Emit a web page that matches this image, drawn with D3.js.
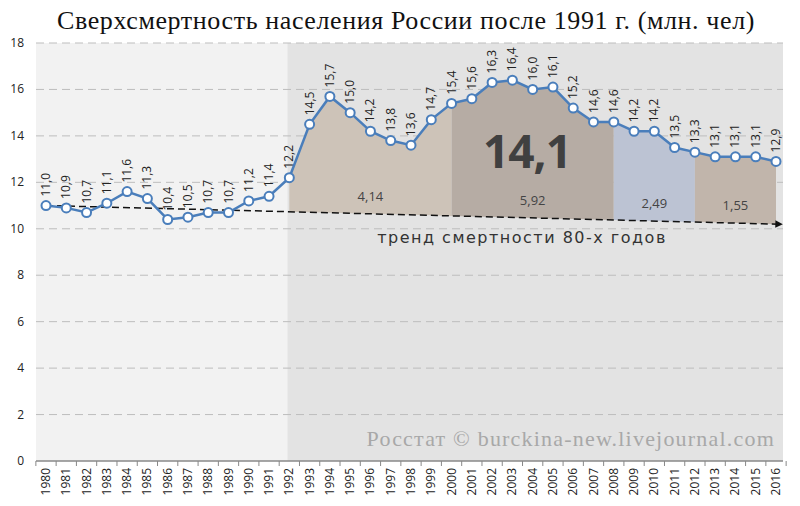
<!DOCTYPE html>
<html><head><meta charset="utf-8">
<script src="https://cdn.jsdelivr.net/npm/d3@7"></script>
<style>body{margin:0;background:#fff}</style>
</head><body>
<div id="chart"></div>
<script>
var width = 800, height = 506;

var years = d3.range(1980, 2017);
var values = [11.0, 10.9, 10.7, 11.1, 11.6, 11.3, 10.4, 10.5, 10.7, 10.7, 11.2, 11.4,
  12.2, 14.5, 15.7, 15.0, 14.2, 13.8, 13.6, 14.7, 15.4, 15.6, 16.3, 16.4, 16.0, 16.1,
  15.2, 14.6, 14.6, 14.2, 14.2, 13.5, 13.3, 13.1, 13.1, 13.1, 12.9];
var trendStart = 11.0, trendEnd = 10.2;   // 1980 -> 2016
var periods = [[1992, 2000, '4,14', '#cdc3b8'], [2000, 2008, '5,92', '#b6aca4'],
  [2008, 2012, '2,49', '#bcc3d3'], [2012, 2016, '1,55', '#c1b5ab']];
var yTicks = d3.range(0, 19, 2);

var svg = d3.select('#chart').append('svg').attr('width', width).attr('height', height);

var x = d3.scaleLinear().domain([1980, 2016]).range([46, 776]);
var y = d3.scaleLinear().domain([0, 18]).range([461, 43]);
var trend = d3.scaleLinear().domain([1980, 2016]).range([trendStart, trendEnd]);
var val = d => values[d - 1980];

// фон
svg.append('rect').attr('x', 36).attr('y', 43).attr('width', x(1992) - 38).attr('height', 418).attr('fill', '#f2f2f2');
svg.append('rect').attr('x', x(1992) - 2).attr('y', 43).attr('width', 783 - x(1992) + 2).attr('height', 418).attr('fill', '#e3e3e3');

// сетка
svg.selectAll('.grid').data(yTicks.filter(d => d > 0)).enter().append('line')
  .attr('x1', 36).attr('x2', 783).attr('y1', y).attr('y2', y)
  .attr('stroke', '#bdbdbd').attr('stroke-dasharray', '8,5');

svg.selectAll('.ylab').data(yTicks).enter().append('text')
  .attr('x', 24).attr('y', d => y(d) + 4).attr('text-anchor', 'end')
  .style('font', '12px "Open Sans"').attr('fill', '#222').text(d => d);

// области сверхсмертности
var area = d3.area().x(d => x(d)).y0(d => y(trend(d))).y1(d => y(val(d)));
periods.forEach(p => {
  svg.append('path').datum(d3.range(p[0], p[1] + 1)).attr('d', area).attr('fill', p[3]);
  var mid = (p[0] + p[1]) / 2;
  svg.append('text').attr('x', x(mid)).attr('y', y(trend(mid)) - 13).attr('text-anchor', 'middle')
    .style('font', '13px "Open Sans"').attr('fill', '#444').text(p[2]);
});

svg.append('text').attr('x', 527).attr('y', 168).attr('text-anchor', 'middle')
  .style('font', 'bold 46px "Open Sans"').style('letter-spacing', '-1px').attr('fill', '#404040').text('14,1');

// тренд
svg.append('defs').append('marker').attr('id', 'arr').attr('viewBox', '0 0 10 10')
  .attr('refX', 9).attr('refY', 5).attr('markerWidth', 5).attr('markerHeight', 5).attr('orient', 'auto')
  .append('path').attr('d', 'M0,0L10,5L0,10z').attr('fill', '#111');
svg.append('line').attr('x1', x(1980)).attr('y1', y(trend(1980)))
  .attr('x2', x(2016.3)).attr('y2', y(trend(2016.3)))
  .attr('stroke', '#111').attr('stroke-width', 1.5).attr('stroke-dasharray', '7,4')
  .attr('marker-end', 'url(#arr)');
svg.append('text').attr('x', 522).attr('y', 243).attr('text-anchor', 'middle')
  .style('font', '16px "DejaVu Sans"').style('letter-spacing', '1.5px').attr('fill', '#333')
  .text('тренд смертности 80-х годов');

// линия
svg.append('path').datum(years)
  .attr('d', d3.line().x(d => x(d)).y(d => y(val(d))))
  .attr('fill', 'none').attr('stroke', '#4a7ebb').attr('stroke-width', 2.5);
svg.selectAll('.pt').data(years).enter().append('circle')
  .attr('cx', x).attr('cy', d => y(val(d))).attr('r', 4.5)
  .attr('fill', '#fff').attr('stroke', '#4a7ebb').attr('stroke-width', 2);
svg.selectAll('.vl').data(years).enter().append('text')
  .attr('transform', d => 'translate(' + (x(d) + 4) + ',' + (y(val(d)) - 9) + ') rotate(-90)')
  .style('font', '12px "Open Sans"').attr('fill', '#222')
  .text(d => val(d).toFixed(1).replace('.', ','));

// ось X
svg.append('line').attr('x1', 36).attr('x2', 783).attr('y1', 461).attr('y2', 461)
  .attr('stroke', '#888').attr('stroke-width', 1.5);
svg.selectAll('.xt').data(d3.range(1980, 2018)).enter().append('line')
  .attr('x1', d => x(d - 0.5)).attr('x2', d => x(d - 0.5)).attr('y1', 461).attr('y2', 466)
  .attr('stroke', '#888');
svg.selectAll('.xl').data(years).enter().append('text')
  .attr('transform', d => 'translate(' + (x(d) + 4) + ',468) rotate(-90)')
  .attr('text-anchor', 'end').style('font', '12px "Open Sans"').attr('fill', '#222').text(d => d);

// заголовок и подпись
svg.append('text').attr('x', 406).attr('y', 29).attr('text-anchor', 'middle')
  .style('font', '26px "Liberation Serif"').style('letter-spacing', '0.6px').attr('fill', '#111')
  .text('Сверхсмертность населения России после 1991 г. (млн. чел)');
svg.append('text').attr('x', 775).attr('y', 446).attr('text-anchor', 'end')
  .style('font', '22px "Liberation Serif"').style('letter-spacing', '1.2px').attr('fill', '#a8a8a8')
  .text('Росстат © burckina-new.livejournal.com');
</script>
</body></html>
